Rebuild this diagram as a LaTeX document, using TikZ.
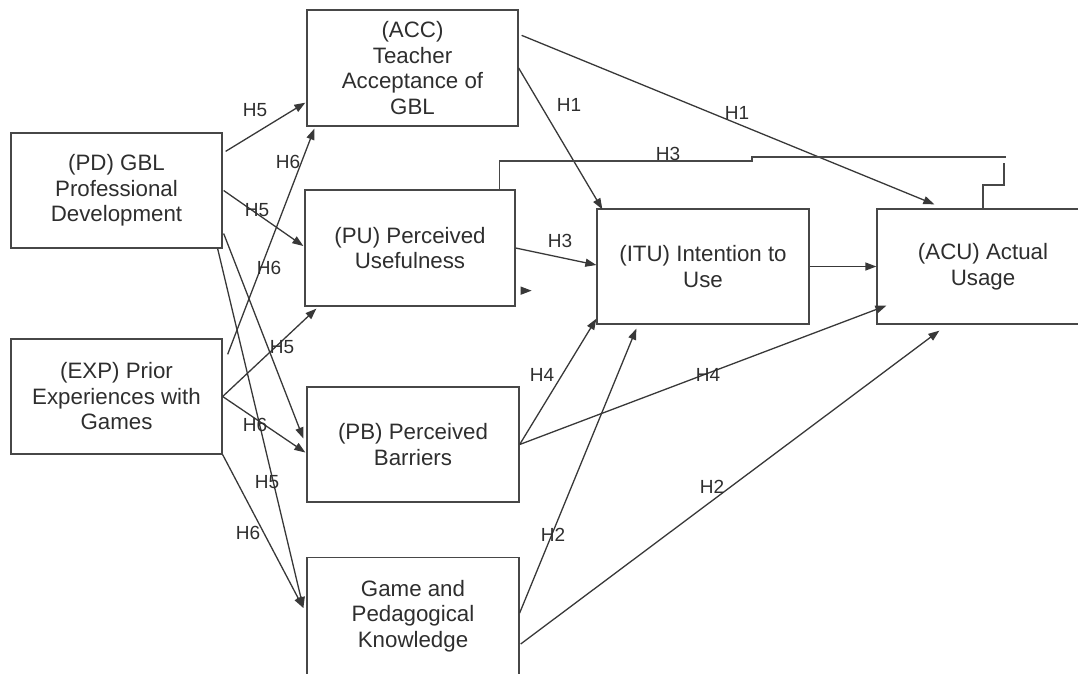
\documentclass[tikz,border=0pt]{standalone}
\usepackage{fontspec}
\setmainfont{Liberation Sans}
\usetikzlibrary{arrows.meta,calc}
\begin{document}
\begin{tikzpicture}[x=1pt,y=-1pt,
  box/.style={draw=black!72, line width=1.3pt, inner sep=0pt, align=center,
    font=\fontsize{22.3}{25.5}\selectfont, text=black!82},
  link/.style={draw=black!78, line width=1.3pt, -{Triangle[length=11pt,width=8pt]}},
  plainline/.style={draw=black!72, line width=1.3pt},
  hyp/.style={font=\fontsize{19}{22}\selectfont, text=black!82, inner sep=0pt}]

\useasboundingbox (0,0) rectangle (1078,673);
\clip (0,0) rectangle (1078,673);

% constructs
\node[box, minimum width=211pt, minimum height=115pt] (pd)  at (116.5,190.5) {(PD) GBL\\Professional\\Development};
\node[box, minimum width=211pt, minimum height=115pt] (exp) at (116.5,396.5) {(EXP) Prior\\Experiences with\\Games};
\node[box, minimum width=211pt, minimum height=116pt] (acc) at (412.5,68) {(ACC)\\Teacher\\Acceptance of\\GBL};
\node[box, minimum width=210pt, minimum height=116pt] (pu)  at (410,248) {(PU) Perceived\\Usefulness};
\node[box, minimum width=212pt, minimum height=115pt] (pb)  at (413,444.5) {(PB) Perceived\\Barriers};
\node[box, minimum width=212pt, minimum height=117pt] (gpk) at (413,616) {Game and\\Pedagogical\\Knowledge};
\node[box, minimum width=212pt, minimum height=115pt] (itu) at (703,266.5) {(ITU) Intention to\\Use};
\node[box, minimum width=212pt, minimum height=115pt] (acu) at (983,266.5) {(ACU) Actual\\Usage};

% paths from professional development
\draw[link] ($(pd.north east)+(3,19)$) -- ($(acc.south west)+(-1,-24)$);
\draw[link] ($(pd.east)+(1,0)$) -- ($(pu.west)+(-1,-2)$);
\draw[link] ($(pd.east)+(1,43)$) -- ($(pb.west)+(-3,-6)$);
\draw[link] ($(pd.south east)+(-5,0)$) -- ($(gpk.west)+(-3,-8)$);

% paths from prior experiences
\draw[link] ($(exp.north east)+(5,16)$) -- ($(acc.south west)+(8,2)$);
\draw[link] (exp.east) -- ($(pu.south west)+(12,2)$);
\draw[link] (exp.east) -- ($(pb.west)+(-1,8)$);
\draw[link] (exp.south east) -- ($(gpk.west)+(-3,-8)$);

% paths into intention and usage
\draw[link] (acc.east) -- ($(itu.north west)+(6,1)$);
\draw[link] ($(acc.north east)+(3,26)$) -- ($(acu.north west)+(58,-4)$);
\draw[link] (pu.east) -- ($(itu.west)+(0,-1.5)$);
\draw[link] (itu.east) -- (acu.west);
\draw[link] (pb.east) -- ($(itu.south west)+(0,-6)$);
\draw[link] (pb.east) -- ($(acu.south west)+(10,-19)$);
\draw[link] ($(gpk.east)+(0,-3)$) -- ($(itu.south west)+(40,4)$);
\draw[link] ($(gpk.east)+(1,28)$) -- ($(acu.south west)+(63,6)$);

% elbow connector over the top (H3)
\coordinate (h3a) at ($(pu.north east)+(-16,0)$);
\coordinate (h3b) at (752,161);
\coordinate (h3c) at (1006,157);
\coordinate (h3d) at (1004,163);
\coordinate (h3e) at (983,185);
\draw[plainline] (h3a) |- (h3b) -- (752,157) -- (h3c);
\draw[plainline] (h3d) |- (h3e) -- (acu.north);

% loose arrow head beside the usefulness box
\draw[link] ($(pu.south east)+(5,-16)$) -- ++(11,0);

% hypothesis labels
\node[hyp] (l1)  at (255,110) {H5};
\node[hyp] (l2)  at (288,162) {H6};
\node[hyp] (l3)  at (257,210) {H5};
\node[hyp] (l4)  at (269,268) {H6};
\node[hyp] (l5)  at (282,347) {H5};
\node[hyp] (l6)  at (255,425) {H6};
\node[hyp] (l7)  at (267,482) {H5};
\node[hyp] (l8)  at (248,533) {H6};
\node[hyp] (l9)  at (569,105) {H1};
\node[hyp] (l10) at (737,113) {H1};
\node[hyp] (l11) at (668,154) {H3};
\node[hyp] (l12) at (560,241) {H3};
\node[hyp] (l13) at (542,375) {H4};
\node[hyp] (l14) at (708,375) {H4};
\node[hyp] (l15) at (553,535) {H2};
\node[hyp] (l16) at (712,487) {H2};
\end{tikzpicture}
\end{document}
